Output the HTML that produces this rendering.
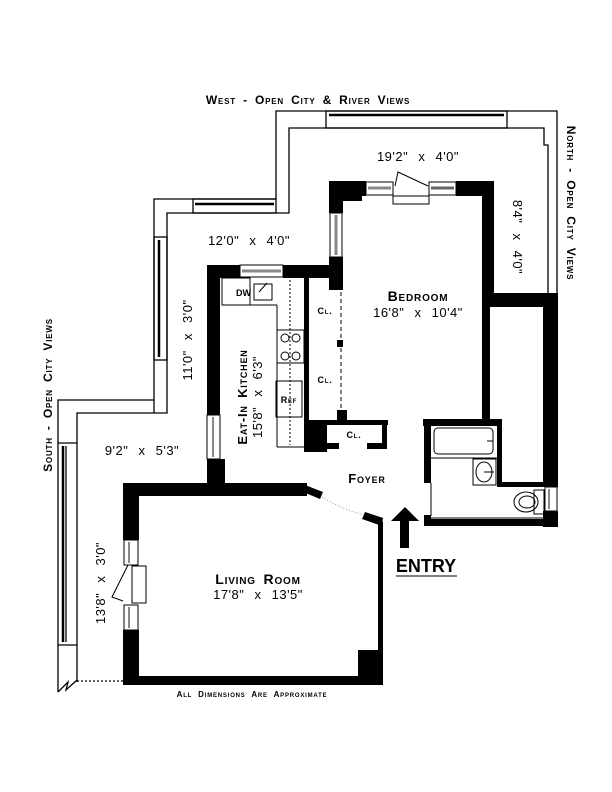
<!DOCTYPE html>
<html><head><meta charset="utf-8"><style>
html,body{margin:0;padding:0;background:#fff}
svg{display:block}
text{font-family:"Liberation Sans",sans-serif;fill:#000}
.sc{font-variant:small-caps;font-weight:bold;letter-spacing:0.8px;word-spacing:3px}
.d{word-spacing:6px;letter-spacing:0.5px}
</style></head><body>
<svg width="612" height="792" viewBox="0 0 612 792" xmlns="http://www.w3.org/2000/svg">
<g fill="none" stroke="#000" stroke-width="1.3">
<polyline points="557,293 557,111 276,111 276,199 154,199 154,400 58,400 58,692"/>
<polyline points="548,293 548,145 544,145 544,128 289,128 289,213 167,213 167,413 77,413 77,682"/>
<rect x="326" y="111" width="181" height="17"/>
<line x1="329" y1="115" x2="504" y2="115" stroke-width="2.5"/>
<rect x="193" y="199" width="83" height="14"/>
<line x1="195" y1="204" x2="274" y2="204" stroke-width="2.5"/>
<rect x="154" y="237" width="13" height="123"/>
<line x1="159" y1="240" x2="159" y2="357" stroke-width="2.5"/>
<line x1="58" y1="443" x2="77" y2="443"/>
<line x1="58" y1="645" x2="77" y2="645"/>
<line x1="63" y1="446" x2="63" y2="642" stroke-width="2.5"/>
<line x1="66" y1="446" x2="66" y2="642"/>
<line x1="154" y1="400" x2="154" y2="413"/>
<polyline points="58,692 68,682 66,690 77,680"/>
<line x1="77" y1="681" x2="123" y2="681" stroke-dasharray="2,2"/>
</g>
<g fill="#000">
<rect x="329" y="181" width="37" height="15"/>
<rect x="329" y="181" width="33" height="20"/>
<rect x="456" y="181" width="38" height="15"/>
<rect x="329" y="181" width="14" height="32"/>
<rect x="329" y="257" width="14" height="33"/>
<rect x="482" y="181" width="12" height="112"/>
<rect x="482" y="293" width="76" height="14"/>
<rect x="482" y="293" width="8" height="127"/>
<rect x="543" y="293" width="15" height="194"/>
<rect x="543" y="511" width="15" height="16"/>
<rect x="207" y="265" width="33" height="13"/>
<rect x="283" y="265" width="59" height="13"/>
<rect x="207" y="265" width="13" height="150"/>
<rect x="207" y="459" width="18" height="31"/>
<rect x="304" y="278" width="5" height="174"/>
<rect x="337" y="340" width="6" height="7"/>
<rect x="337" y="410" width="10" height="12"/>
<rect x="304" y="420" width="84" height="5"/>
<rect x="304" y="420" width="23" height="32"/>
<rect x="326" y="443" width="13" height="6"/>
<rect x="367" y="443" width="20" height="6"/>
<rect x="382" y="420" width="5" height="29"/>
<rect x="423" y="419" width="79" height="7"/>
<rect x="424" y="419" width="7" height="64"/>
<rect x="497" y="419" width="5" height="68"/>
<rect x="497" y="482" width="50" height="5"/>
<rect x="424" y="519" width="134" height="7"/>
<rect x="424" y="515" width="7" height="11"/>
<rect x="123" y="483" width="184" height="13"/>
<rect x="123" y="483" width="16" height="57"/>
<rect x="123" y="630" width="16" height="55"/>
<rect x="123" y="676" width="260" height="9"/>
<rect x="378" y="522" width="5" height="163"/>
<rect x="358" y="650" width="25" height="35"/>
<polygon points="305,485 323,492 320,499 303,492"/>
<polygon points="365,512 383,518 382,526 362,519"/>
<polygon points="405,507 419,521 409,521 409,548 400,548 400,521 391,521"/>
</g>
<g fill="none" stroke="#000" stroke-width="1">
<rect x="366" y="182" width="27" height="13"/><line x1="368" y1="188" x2="391" y2="188" stroke="#888" stroke-width="3"/>
<rect x="429" y="182" width="27" height="13"/><line x1="431" y1="188" x2="454" y2="188" stroke="#666" stroke-width="3"/>
<rect x="393" y="196" width="36" height="8"/>
<polyline points="395,186 398,172 428,186"/>
<rect x="330" y="213" width="12" height="44"/><line x1="336" y1="215" x2="336" y2="255" stroke="#888" stroke-width="3"/>
<rect x="240" y="265" width="43" height="12"/><line x1="242" y1="271" x2="281" y2="271" stroke="#888" stroke-width="3"/>
<rect x="207" y="415" width="13" height="44"/><line x1="213" y1="417" x2="213" y2="457" stroke="#888" stroke-width="2"/>
<rect x="124" y="540" width="14" height="25"/><rect x="124" y="605" width="14" height="25"/>
<line x1="129" y1="542" x2="129" y2="563" stroke="#888" stroke-width="2"/><line x1="129" y1="607" x2="129" y2="628" stroke="#888" stroke-width="2"/>
<rect x="132" y="566" width="14" height="37"/>
<polyline points="128,565 112,597 123,601"/>
<rect x="545" y="487" width="12" height="24"/><line x1="549" y1="489" x2="549" y2="509" stroke="#888" stroke-width="2"/>
<rect x="222" y="278" width="28" height="27"/>
<line x1="222" y1="305" x2="277" y2="305"/><line x1="277" y1="305" x2="277" y2="447"/>
<line x1="277" y1="447" x2="304" y2="447"/>
<rect x="254" y="284" width="18" height="16"/><line x1="259" y1="292" x2="267" y2="283"/>
<line x1="290" y1="280" x2="290" y2="445" stroke-dasharray="2,2"/>
<rect x="277" y="330" width="27" height="33"/>
<rect x="276" y="381" width="26" height="36"/>
<line x1="341" y1="278" x2="341" y2="410" stroke-dasharray="4,3"/>
<rect x="434" y="428" width="59" height="26" rx="4"/>
<line x1="487" y1="441" x2="493" y2="441"/>
<line x1="431" y1="458" x2="497" y2="458"/>
<rect x="473" y="459" width="23" height="26"/>
<ellipse cx="484" cy="472" rx="8" ry="10"/><line x1="484" y1="472" x2="494" y2="472"/>
<line x1="431" y1="483" x2="431" y2="516"/>
<line x1="431" y1="518" x2="543" y2="518"/>
<rect x="534" y="490" width="10" height="24"/>
<ellipse cx="526" cy="502" rx="12" ry="10"/><ellipse cx="527" cy="502" rx="8" ry="6"/>
<path d="M322,497 Q343,510 365,515" stroke-dasharray="1,2" stroke="#999"/>
<line x1="396" y1="576" x2="457" y2="576"/>
<circle cx="285" cy="338" r="4"/><circle cx="296" cy="338" r="4"/>
<circle cx="285" cy="356" r="4"/><circle cx="296" cy="356" r="4"/>
</g>
<text x="308" y="104" font-size="12" class="sc" text-anchor="middle">West - Open City &amp; River Views</text>
<text transform="translate(567,203) rotate(90)" font-size="12" class="sc" text-anchor="middle">North - Open City Views</text>
<text transform="translate(52,395) rotate(-90)" font-size="12" class="sc" text-anchor="middle">South - Open City Views</text>
<text x="418" y="161" font-size="13" class="d" text-anchor="middle">19'2" x 4'0"</text>
<text transform="translate(513,237) rotate(90)" font-size="13" class="d" text-anchor="middle">8'4" x 4'0"</text>
<text x="249" y="245" font-size="13" class="d" text-anchor="middle">12'0" x 4'0"</text>
<text transform="translate(192,340) rotate(-90)" font-size="13" class="d" text-anchor="middle">11'0" x 3'0"</text>
<text x="142" y="455" font-size="13" class="d" text-anchor="middle">9'2" x 5'3"</text>
<text transform="translate(105,583) rotate(-90)" font-size="13" class="d" text-anchor="middle">13'8" x 3'0"</text>
<text transform="translate(247,397) rotate(-90)" font-size="13" class="sc" text-anchor="middle">Eat-In Kitchen</text>
<text transform="translate(262,397) rotate(-90)" font-size="13" class="d" text-anchor="middle">15'8" x 6'3"</text>
<text x="236" y="296" font-size="9" font-weight="bold">DW</text>
<text x="289" y="403" font-size="9" class="sc" text-anchor="middle">Ref</text>
<text x="325" y="314" font-size="9" class="sc" text-anchor="middle">Cl.</text>
<text x="325" y="383" font-size="9" class="sc" text-anchor="middle">Cl.</text>
<text x="354" y="438" font-size="9" class="sc" text-anchor="middle">Cl.</text>
<text x="418" y="301" font-size="14" class="sc" text-anchor="middle">Bedroom</text>
<text x="418" y="317" font-size="13" class="d" text-anchor="middle">16'8" x 10'4"</text>
<text x="367" y="483" font-size="13" class="sc" text-anchor="middle">Foyer</text>
<text x="258" y="584" font-size="14" class="sc" text-anchor="middle">Living Room</text>
<text x="258" y="599" font-size="13" class="d" text-anchor="middle">17'8" x 13'5"</text>
<text x="426" y="572" font-size="18" font-weight="bold" text-anchor="middle">ENTRY</text>
<text x="252" y="697" font-size="8" class="sc" text-anchor="middle">All Dimensions Are Approximate</text>
</svg>
</body></html>
